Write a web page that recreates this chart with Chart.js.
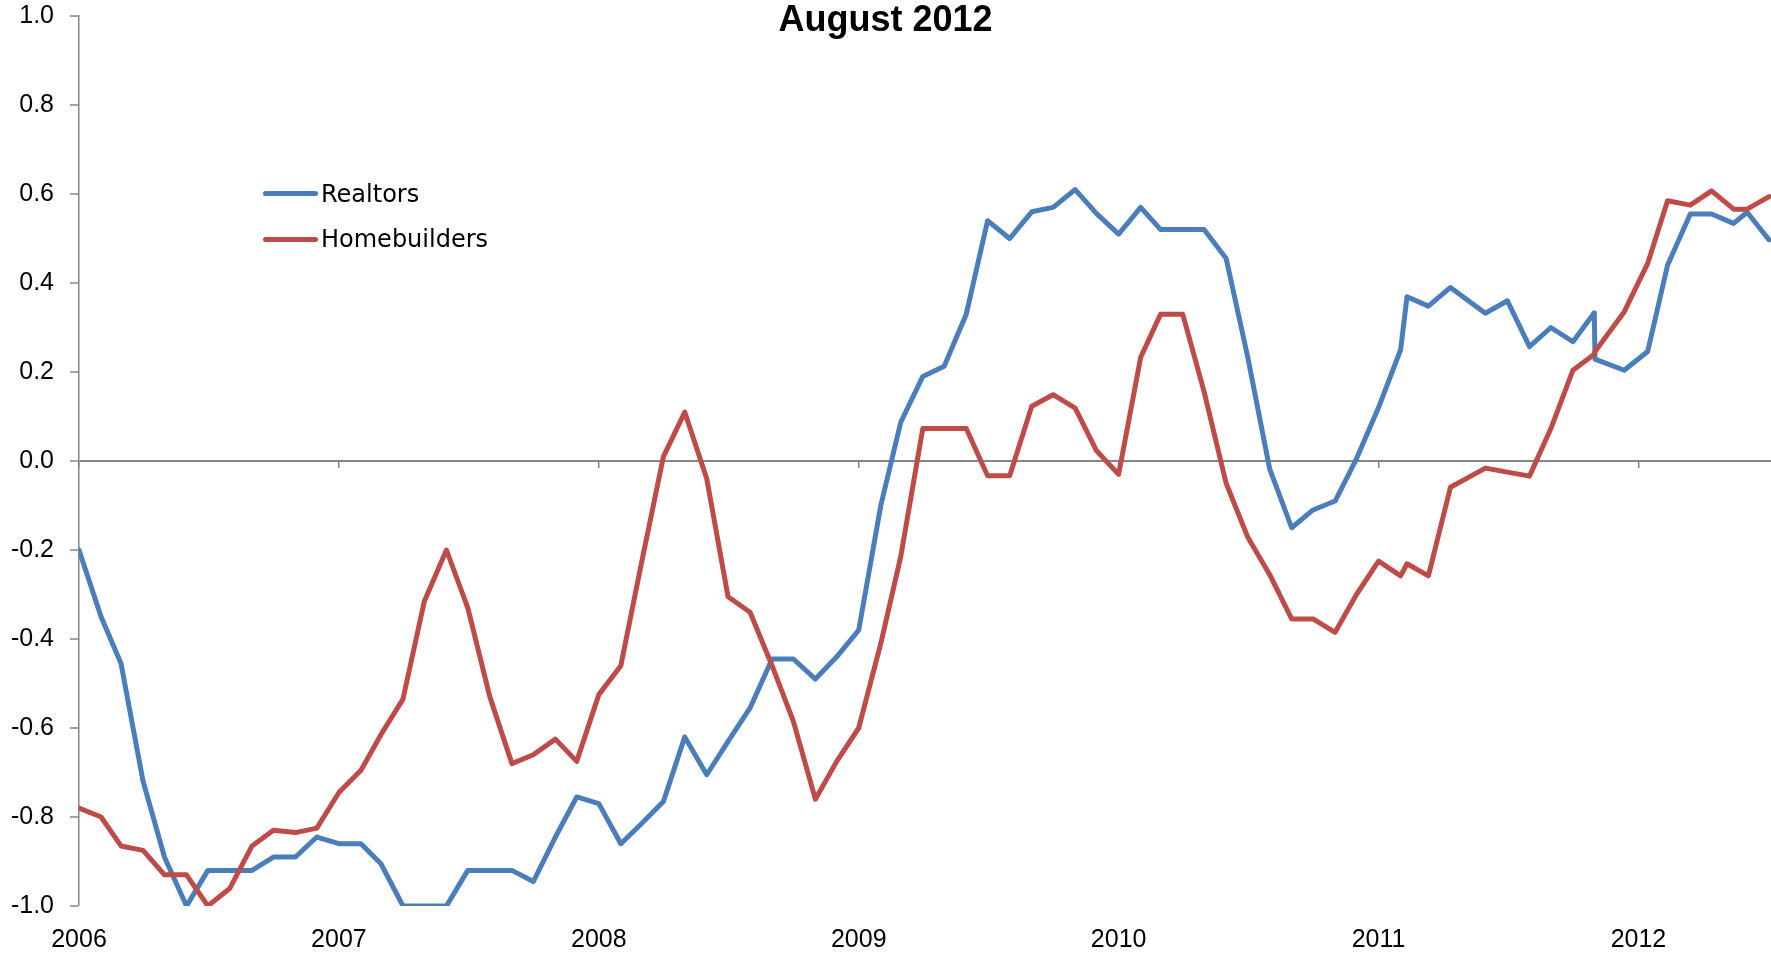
<!DOCTYPE html>
<html>
<head>
<meta charset="utf-8">
<script src="https://cdn.jsdelivr.net/npm/chart.js@4.4.0/dist/chart.umd.min.js"></script>
<style>
  html, body { margin: 0; padding: 0; background: #ffffff; }
  #wrap { position: relative; width: 1771px; height: 955px; overflow: hidden; }
  #chart { position: absolute; left: 0; top: 0; }
  #title { position: absolute; left: 0; top: 1px; width: 1771px; text-align: center;
           font: bold 36px/36px "Liberation Sans", Arial, sans-serif; color: #000; }
  .leg { position: absolute; left: 263px; height: 24px; font: 24px/24px "DejaVu Sans", sans-serif; color: #000; white-space: nowrap; }
  .leg .sw { position: absolute; left: 0; top: 0; width: 55px; height: 5px; border-radius: 3px; }
  .leg .tx { position: absolute; left: 58px; top: 0; }
</style>
</head>
<body>
<div id="wrap">
  <canvas id="chart" width="1771" height="955"></canvas>
  <div id="title">August 2012</div>
  <div class="leg" style="top:182px;"><span class="sw" style="top:9px;background:#4a7ebb;"></span><span class="tx">Realtors</span></div>
  <div class="leg" style="top:227px;"><span class="sw" style="top:10px;background:#be4b48;"></span><span class="tx">Homebuilders</span></div>
</div>
<script>
// Observation dates (survey dates)
const dates = [
  '2006-01-01','2006-02-01','2006-03-01','2006-04-01','2006-05-01','2006-06-01',
  '2006-07-01','2006-08-01','2006-09-01','2006-10-01','2006-11-01','2006-12-01',
  '2007-01-01','2007-02-01','2007-03-01','2007-04-01','2007-05-01','2007-06-01',
  '2007-07-01','2007-08-01','2007-09-01','2007-10-01','2007-11-01','2007-12-01',
  '2008-01-01','2008-02-01','2008-03-01','2008-04-01','2008-05-01','2008-06-01',
  '2008-07-01','2008-08-01','2008-09-01','2008-10-01','2008-11-01','2008-12-01',
  '2009-01-01','2009-02-01','2009-03-01','2009-04-01','2009-05-01','2009-06-01',
  '2009-07-01','2009-08-01','2009-09-01','2009-10-01','2009-11-01','2009-12-01',
  '2010-01-01','2010-02-01','2010-03-01','2010-04-01','2010-05-01','2010-06-01',
  '2010-07-01','2010-08-01','2010-09-01','2010-10-01','2010-11-01','2010-12-01',
  '2011-01-01','2011-02-01','2011-02-10','2011-03-12','2011-04-12','2011-05-31',
  '2011-07-01','2011-08-01','2011-08-31','2011-10-01','2011-10-31','2011-11-01',
  '2011-12-12','2012-01-14','2012-02-11','2012-03-14','2012-04-13','2012-05-14',
  '2012-06-02','2012-07-03'
];

const realtors = [
  -0.20, -0.35, -0.455, -0.72, -0.89, -1.00, -0.92, -0.92, -0.92, -0.89, -0.89, -0.845,
  -0.86, -0.86, -0.905, -1.00, -1.00, -1.00, -0.92, -0.92, -0.92, -0.945, -0.845, -0.755,
  -0.77, -0.86, -0.815, -0.765, -0.62, -0.705, -0.63, -0.555, -0.445, -0.445, -0.49, -0.44,
  -0.38, -0.10, 0.087, 0.19, 0.213, 0.33, 0.54, 0.50, 0.56, 0.57, 0.61, 0.556,
  0.51, 0.57, 0.52, 0.52, 0.52, 0.455, 0.236, -0.017, -0.15, -0.11, -0.09, 0.005,
  0.12, 0.25, 0.369, 0.348, 0.39, 0.332,
  0.36, 0.257, 0.30, 0.268, 0.333, 0.229,
  0.204, 0.246, 0.44, 0.555, 0.555, 0.534,
  0.559, 0.497
];

const homebuilders = [
  -0.78, -0.80, -0.865, -0.875, -0.93, -0.93, -1.00, -0.96, -0.865, -0.83, -0.835, -0.825,
  -0.745, -0.695, -0.615, -0.535, -0.315, -0.20, -0.33, -0.53, -0.68, -0.66, -0.625, -0.675,
  -0.525, -0.46, -0.23, 0.01, 0.11, -0.04, -0.305, -0.34, -0.46, -0.585, -0.76, -0.675,
  -0.60, -0.41, -0.215, 0.073, 0.073, 0.073, -0.033, -0.033, 0.123, 0.149, 0.119, 0.023,
  -0.03, 0.233, 0.33, 0.33, 0.156, -0.05, -0.17, -0.255, -0.355, -0.355, -0.385, -0.30,
  -0.225, -0.258, -0.231, -0.258, -0.059, -0.016,
  -0.025, -0.034, 0.073, 0.204, 0.24, 0.246,
  0.335, 0.444, 0.585, 0.575, 0.607, 0.566,
  0.566, 0.594
];

const yearTicks = [2006, 2007, 2008, 2009, 2010, 2011, 2012];
const yTicks = [-1.0, -0.8, -0.6, -0.4, -0.2, 0, 0.2, 0.4, 0.6, 0.8, 1.0];

function toYear(s) {
  const p = s.split('-').map(Number);
  const start = Date.UTC(p[0], 0, 1), end = Date.UTC(p[0] + 1, 0, 1);
  return p[0] + (Date.UTC(p[0], p[1] - 1, p[2]) - start) / (end - start);
}
const xs = dates.map(toYear);

const AXIS = '#868686';
const tickFont = { family: 'Liberation Sans', size: 25 };

new Chart(document.getElementById('chart').getContext('2d'), {
  type: 'line',
  data: {
    datasets: [
      { label: 'Realtors', data: xs.map((x, i) => ({ x: x, y: realtors[i] })),
        borderColor: '#4a7ebb', backgroundColor: '#4a7ebb', borderWidth: 5,
        pointRadius: 0, tension: 0, borderJoinStyle: 'round', borderCapStyle: 'round', order: 1 },
      { label: 'Homebuilders', data: xs.map((x, i) => ({ x: x, y: homebuilders[i] })),
        borderColor: '#be4b48', backgroundColor: '#be4b48', borderWidth: 5,
        pointRadius: 0, tension: 0, borderJoinStyle: 'round', borderCapStyle: 'round', order: 0 }
    ]
  },
  options: {
    responsive: false, animation: false, devicePixelRatio: 1,
    layout: { padding: { left: 0, right: 0, top: 0, bottom: 0 } },
    plugins: { legend: { display: false }, title: { display: false }, tooltip: { enabled: false } },
    scales: {
      x: {
        type: 'linear', axis: 'x', position: 'bottom', min: 2006, max: 2012.51,
        afterBuildTicks: s => { s.ticks = yearTicks.map(v => ({ value: v })); },
        afterFit: s => { s.height = 49; },
        grid: { display: false, drawTicks: false },
        border: { display: false },
        ticks: { padding: 19, font: tickFont, color: '#000', autoSkip: false, maxRotation: 0,
                 callback: v => String(v) }
      },
      x2: {
        type: 'linear', axis: 'x', position: { y: 0 }, min: 2006, max: 2012.51,
        afterBuildTicks: s => { s.ticks = yearTicks.map(v => ({ value: v })); },
        grid: { display: true, drawOnChartArea: false, drawTicks: true, tickLength: 7,
                tickColor: AXIS, tickWidth: 1.5, color: AXIS, lineWidth: 1.5 },
        border: { display: false },
        ticks: { display: false }
      },
      y: {
        type: 'linear', position: 'left', min: -1, max: 1,
        afterBuildTicks: s => { s.ticks = yTicks.map(v => ({ value: v })); },
        afterFit: s => { s.width = 79; s.paddingTop = 16; s.paddingBottom = 16; },
        grid: {
          drawOnChartArea: true, drawTicks: true, tickLength: 9,
          color: c => (c.tick && c.tick.value === 0) ? AXIS : 'rgba(0,0,0,0)',
          lineWidth: c => (c.tick && c.tick.value === 0) ? 2 : 0,
          tickColor: AXIS, tickWidth: 1.5
        },
        border: { display: true, color: AXIS, width: 1.5 },
        ticks: { padding: 16, font: tickFont, color: '#000', callback: v => Number(v).toFixed(1) }
      }
    }
  }
});
</script>
</body>
</html>
